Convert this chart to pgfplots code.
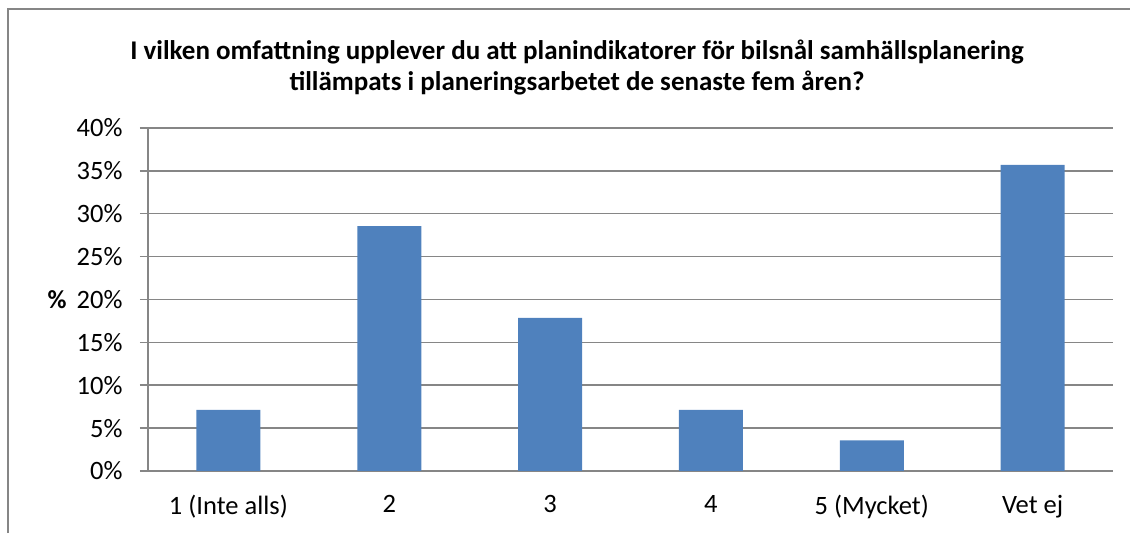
\documentclass[border=0pt]{standalone}
\usepackage{pgfplots}
\pgfplotsset{compat=1.18}
\usepackage{fontspec}
\setmainfont{Carlito}
\definecolor{barblue}{HTML}{4F81BD}
\definecolor{gridgray}{HTML}{868686}
\begin{document}
\begin{tikzpicture}[x=1pt,y=1pt]
\path[use as bounding box] (0,0) rectangle (1130,533);
\draw[gridgray, line width=1.5pt] (8,0) -- (8,524) -- (1130,524);
\node[font=\fontsize{27}{31}\selectfont\bfseries, align=center] at (577,465) {I vilken omfattning upplever du att planindikatorer för bilsnål samhällsplanering\\tillämpats i planeringsarbetet de senaste fem åren?};
\node[font=\fontsize{26}{30}\selectfont\bfseries] at (57,233) {\%};
\begin{axis}[
  at={(148pt,62pt)}, anchor=south west,
  scale only axis, width=965pt, height=343pt,
  xmin=-0.5, xmax=5.5, ymin=0, ymax=40,
  ytick={0,5,...,40},
  yticklabel={\pgfmathprintnumber{\tick}\%},
  /pgf/number format/assume math mode=true,
  xtick={0,1,2,3,4,5},
  xticklabels={1 (Inte alls),2,3,4,5 (Mycket),Vet ej},
  axis x line*=bottom, axis y line*=left,
  axis line style={gridgray, line width=1.5pt},
  ymajorgrids, grid style={gridgray, line width=1.5pt},
  y tick style={gridgray, line width=1.5pt},
  x tick style={draw=none},
  tick align=outside, major tick length=8pt,
  ticklabel style={font=\fontsize{26.5}{30}\selectfont, text=black},
  yticklabel style={xshift=-14pt},
  xticklabel style={yshift=-13pt},
  enlargelimits=false,
  clip=false,
]
\addplot[ybar, bar width=64pt, fill=barblue, draw=none] coordinates {
(0,7.14) (1,28.57) (2,17.86) (3,7.14) (4,3.57) (5,35.71)};
\end{axis}
\end{tikzpicture}
\end{document}
